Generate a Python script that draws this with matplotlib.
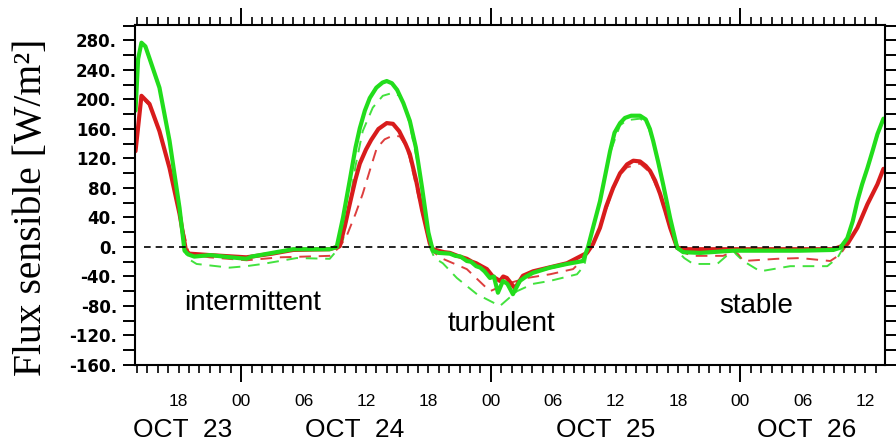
import numpy as np
import matplotlib
matplotlib.use("Agg")
import matplotlib.pyplot as plt
from matplotlib.ticker import MultipleLocator, FixedLocator

# hours counted from the first 00 tick (OCT 23 00:00)
green_x = [-10.15, -9.9, -9.58, -9.2, -8.81, -7.85, -6.88, -5.92, -5.44, -5.1, -4.5, -3.0, -1.0, 0.5,
           1.0, 3.0, 5.0, 7.0, 8.5, 9.19, 9.8, 10.44, 11.0, 11.41, 11.9, 12.37, 13.0, 13.6, 14.0,
           14.5, 15.0, 15.6, 16.22, 16.8, 17.4, 18.0, 18.43, 19.0, 20.07, 20.6, 21.1, 21.7, 22.1,
           22.6, 23.0, 23.4, 23.92, 24.3, 24.69, 25.17, 25.6, 26.13, 26.8, 27.4, 28.06, 29.69,
           31.33, 32.87, 33.35, 33.9, 34.5, 35.0, 35.47, 35.9, 36.43, 36.9, 37.5, 38.35, 38.9,
           39.3, 39.61, 40.1, 40.57, 41.25, 41.92, 42.5, 44.14, 47.31, 50.58, 53.75, 56.93, 57.6,
           58.28, 58.8, 59.24, 59.7, 60.21, 60.7, 61.17, 61.75]
green_y = [185, 255, 277, 272, 256, 216, 144, 53, -5, -10, -13, -11, -14, -16,
           -13, -8, -3, -3, -3, 0, 40, 90, 135, 161, 185, 202, 216, 223, 225,
           222, 213, 195, 171, 135, 80, 20, -5, -8, -9, -12, -13, -19, -20,
           -26, -28, -33, -42, -40, -62, -46, -50, -64, -46, -40, -35, -28,
           -23, -19, 0, 30, 62, 97, 130, 155, 168, 175, 178, 178, 173,
           160, 144, 115, 85, 39, -1, -7, -8, -5, -5, -5, -4, -1,
           12, 35, 62, 85, 107, 130, 153, 174]

red_x = [-10.15, -9.58, -8.81, -7.85, -6.88, -5.92, -5.3, -5.0, -3.0, 0.5, 3.0, 5.0, 8.5, 9.48,
         10.0, 10.44, 11.0, 11.41, 12.0, 12.5, 13.2, 14.0, 14.6, 15.2, 15.8, 16.22, 16.8, 17.4,
         18.14, 18.43, 19.5, 20.07, 20.8, 21.7, 22.2, 22.6, 23.1, 23.63, 24.2, 24.88, 25.2, 25.55,
         26.32, 27.09, 28.06, 31.33, 33.25, 33.83, 34.5, 35.1, 35.76, 36.43, 37.1, 37.7, 38.35,
         38.9, 39.32, 39.8, 40.28, 40.8, 41.25, 41.92, 42.89, 47.31, 56.93, 58.28, 59.24, 60.21,
         61.17, 61.75]
red_y = [130, 205, 194, 157, 107, 45, -5, -9, -11, -14, -9, -4, -3, 1,
         30, 58, 92, 113, 132, 145, 160, 168, 167, 157, 140, 126, 92, 50,
         5, -3, -7, -8, -12, -16, -20, -22, -26, -30, -40, -46, -40, -42,
         -56, -39, -33, -22, -8, 4, 26, 55, 80, 100, 112, 117, 116,
         110, 103, 90, 72, 48, 26, -1, -3, -3, -3, 4, 26, 58,
         85, 106]

green_dash_x = [-10.15, -9.9, -9.58, -9.2, -8.81, -7.85, -6.88, -5.92, -5.2, -4.28, -1.11, 0.5, 2.07,
                5.34, 8.52, 9.19, 9.8, 10.44, 11.0, 11.69, 12.66, 13.62, 14.58, 15.25, 15.8, 16.22,
                17.18, 18.14, 18.6, 19.39, 20.74, 22.67, 24.88, 26.51, 28.06, 29.69, 32.29, 33.0,
                33.35, 34.5, 35.47, 36.43, 37.1, 38.35, 39.03, 39.61, 40.57, 41.25, 41.92, 42.6,
                43.46, 45.77, 47.0, 47.31, 47.6, 48.27, 49.9, 52.79, 56.35, 57.32, 57.89, 58.28,
                59.82, 61.17, 61.75]
green_dash_y = [185, 253, 275, 270, 254, 214, 142, 50, -15, -23, -28, -26, -23,
                -15, -16, -5, 10, 60, 110, 157, 189, 205, 209, 205, 190, 165,
                100, 0, -15, -22, -42, -64, -80, -60, -50, -46, -37, -25,
                0, 62, 128, 165, 172, 174, 168, 142, 83, 37, -5, -15,
                -23, -23, -8, -5, -10, -19, -33, -26, -26, -15, -1, 10,
                92, 150, 172]

red_dash_x = [-10.15, -9.58, -8.81, -7.85, -6.88, -5.92, -5.0, -3.03, 0.53, 3.71, 8.52, 9.48,
              10.15, 11.0, 11.69, 12.4, 13.04, 13.8, 14.58, 15.25, 15.8, 16.22, 17.18, 18.14, 18.6,
              19.39, 21.7, 23.92, 25.55, 27.48, 29.69, 31.91, 33.0, 33.83, 34.5, 35.76, 36.43, 37.1,
              38.35, 39.32, 40.28, 41.25, 41.92, 42.6, 43.46, 46.34, 47.0, 47.31, 47.8, 48.27, 51.54,
              53.75, 56.64, 57.6, 58.28, 59.24, 60.21, 61.17, 61.75]
red_dash_y = [130, 203, 192, 155, 105, 43, -10, -14, -18, -14, -12, 0,
              15, 45, 72, 105, 134, 146, 151, 150, 138, 120, 60, 2, -8,
              -16, -30, -60, -50, -42, -37, -30, -15, 4, 26, 78, 98, 108,
              113, 101, 70, 24, -3, -8, -12, -12, -8, -5, -10, -19, -16,
              -15, -19, -10, 4, 26, 58, 85, 104]

hour_labels = ["18", "00", "06", "12", "18", "00", "06", "12", "18", "00", "06", "12"]
hour_ticks = [-6, 0, 6, 12, 18, 24, 30, 36, 42, 48, 54, 60]
day_ticks = [0, 24, 48]
date_labels = ["OCT  23", "OCT  24", "OCT  25", "OCT  26"]
date_pos = [-5.6, 10.9, 35.0, 54.4]

regimes = ["intermittent", "turbulent", "stable"]
regime_x = [1.1, 25.0, 49.5]
regime_y = [-76, -104, -80]

XMIN, XMAX = -10.2, 61.9
YMIN, YMAX = -160, 301
ZERO_START = -9.3

GREEN = "#22dd1c"
RED = "#d81c1c"

fig = plt.figure(figsize=(8.96, 4.46), dpi=100)
ax = fig.add_axes([135 / 896, 1 - 365 / 446, 750 / 896, 340 / 446])

ax.plot(red_dash_x, red_dash_y, color=RED, lw=1.4, dashes=(6, 4), alpha=0.85)
ax.plot(green_dash_x, green_dash_y, color=GREEN, lw=1.4, dashes=(6, 4), alpha=0.85)
ax.plot(red_x, red_y, color=RED, lw=3.0, solid_joinstyle="round", solid_capstyle="round")
ax.plot(green_x, green_y, color=GREEN, lw=3.0, solid_joinstyle="round", solid_capstyle="round")
ax.hlines(0, ZERO_START, XMAX, colors="black", lw=1.2, linestyles=(0, (4, 3)))

ax.set_xlim(XMIN, XMAX)
ax.set_ylim(YMIN, YMAX)

for s in ax.spines.values():
    s.set_linewidth(1.5)

# x: long ticks at 00, hourly short ticks, labels every 6 h on a secondary axis
ax.xaxis.set_major_locator(FixedLocator(day_ticks))
ax.xaxis.set_minor_locator(MultipleLocator(1))
ax.tick_params(axis="x", which="major", direction="out", length=12, width=1.4,
               top=True, bottom=True, labelbottom=False)
ax.tick_params(axis="x", which="minor", direction="out", length=5.5, width=1.2,
               top=True, bottom=True)

sec = ax.secondary_xaxis("bottom")
sec.set_xticks(hour_ticks)
sec.set_xticklabels(hour_labels, family="Liberation Sans", fontsize=12.5)
sec.tick_params(length=0, pad=21)
sec.spines["bottom"].set_visible(False)

# y
ax.yaxis.set_minor_locator(MultipleLocator(20))
yt = np.arange(-160, 281, 40)
ax.set_yticks(yt)
ax.set_yticklabels([f"{v}." for v in yt], family="DejaVu Sans", fontweight="bold", fontsize=12)
ax.tick_params(axis="y", which="both", direction="out", length=9, width=1.4,
               left=True, right=True, pad=4)

for lab, xp in zip(date_labels, date_pos):
    ax.text(xp, -0.19, lab, transform=ax.get_xaxis_transform(), ha="center", va="center",
            family="Liberation Sans", fontsize=19)

for lab, xp, yp in zip(regimes, regime_x, regime_y):
    ax.text(xp, yp, lab, ha="center", va="center", family="Liberation Sans", fontsize=20)

fig.text(31 / 896, 1 - 207 / 446, "Flux sensible [W/m²]", rotation=90, ha="center", va="center",
         family="Liberation Serif", fontsize=28.5)

fig.savefig("out.png", dpi=100)
